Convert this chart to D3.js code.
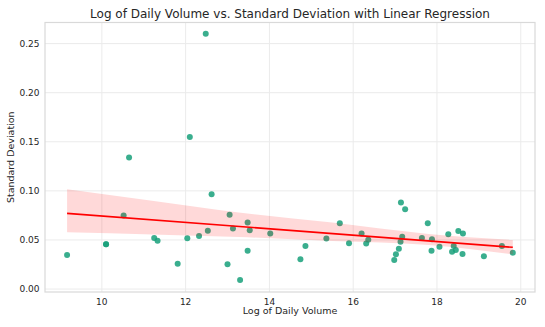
<!DOCTYPE html>
<html>
<head>
<meta charset="utf-8">
<script src="https://cdn.jsdelivr.net/npm/d3@7"></script>
<style>
  body { margin: 0; background: #fff; }
  text { font-family: "DejaVu Sans", sans-serif; fill: #262626; }
</style>
</head>
<body>
<svg id="chart" width="545" height="327"></svg>
<script>
// log of daily volume (x) and standard deviation (y)
const logVolume = [9.17, 10.10, 10.10, 10.52, 10.65, 11.25, 11.33, 11.81, 12.04, 12.10,
  12.32, 12.48, 12.53, 12.62, 13.00, 13.05, 13.13, 13.30, 13.48, 13.48,
  13.53, 14.02, 14.74, 14.86, 15.36, 15.68, 15.90, 16.20, 16.31, 16.36,
  16.98, 17.02, 17.09, 17.13, 17.17, 17.14, 17.24, 17.64, 17.78, 17.88,
  17.87, 18.06, 18.27, 18.36, 18.40, 18.45, 18.51, 18.62, 18.61, 19.12,
  19.55, 19.81];
const stdDev = [0.0347, 0.0456, 0.0456, 0.0748, 0.134, 0.052, 0.0493, 0.0258, 0.0517, 0.155,
  0.054, 0.260, 0.0595, 0.0966, 0.0252, 0.0758, 0.0616, 0.0092, 0.0677, 0.039,
  0.0599, 0.0565, 0.0303, 0.0439, 0.0514, 0.067, 0.0466, 0.0565, 0.0463, 0.0503,
  0.0296, 0.0354, 0.0411, 0.0483, 0.0534, 0.0881, 0.0813, 0.052, 0.067, 0.0507,
  0.039, 0.0432, 0.0558, 0.0381, 0.0439, 0.0398, 0.0592, 0.0565, 0.0357, 0.0334,
  0.0439, 0.037];
// confidence band edges (bootstrapped in the original)
const bandX = [9.17, 11.2, 13.27, 15.5, 17.8, 19.81];
const bandHi = [0.1017, 0.0900, 0.0780, 0.0677, 0.0561, 0.0500];
const bandLo = [0.0578, 0.0556, 0.0530, 0.0490, 0.0449, 0.0354];
const xTicks = [10, 12, 14, 16, 18, 20];
const yTicks = [0.00, 0.05, 0.10, 0.15, 0.20, 0.25];

const margin = { left: 45, right: 10, top: 22.5, bottom: 35 };
const width = 545, height = 327;

const svg = d3.select('#chart');
svg.append('rect').attr('width', width).attr('height', height).attr('fill', '#fff');

const xScale = d3.scaleLinear()
                 .domain([8.643, 20.34])
                 .range([margin.left, width - margin.right]);
const yScale = d3.scaleLinear()
                 .domain([-0.003, 0.2715])
                 .range([height - margin.bottom, margin.top]);

// grid
svg.append('g')
   .selectAll('line')
   .data(xTicks)
   .join('line')
     .attr('x1', d => xScale(d)).attr('x2', d => xScale(d))
     .attr('y1', margin.top).attr('y2', height - margin.bottom)
     .attr('stroke', '#ebebeb').attr('stroke-width', 1);
svg.append('g')
   .selectAll('line')
   .data(yTicks)
   .join('line')
     .attr('x1', margin.left).attr('x2', width - margin.right)
     .attr('y1', d => yScale(d)).attr('y2', d => yScale(d))
     .attr('stroke', '#ebebeb').attr('stroke-width', 1);

// points
const data = logVolume.map((x, i) => ({ x: x, y: stdDev[i] }));
svg.append('g')
   .selectAll('circle')
   .data(data)
   .join('circle')
     .attr('cx', d => xScale(d.x))
     .attr('cy', d => yScale(d.y))
     .attr('r', 3)
     .attr('fill', '#17a07a')
     .attr('fill-opacity', 0.85);

// least squares fit
const xMean = d3.mean(data, d => d.x);
const yMean = d3.mean(data, d => d.y);
const sxx = d3.sum(data, d => (d.x - xMean) ** 2);
const sxy = d3.sum(data, d => (d.x - xMean) * (d.y - yMean));
const slope = sxy / sxx;
const intercept = yMean - slope * xMean;
const [xMin, xMax] = d3.extent(logVolume);

const band = bandX.map((x, i) => ({ x: x, lo: bandLo[i], hi: bandHi[i] }));
svg.append('path')
   .datum(band)
   .attr('fill', 'red')
   .attr('fill-opacity', 0.15)
   .attr('d', d3.area().curve(d3.curveMonotoneX)
     .x(d => xScale(d.x)).y0(d => yScale(d.lo)).y1(d => yScale(d.hi)));
svg.append('path')
   .datum([xMin, xMax])
   .attr('fill', 'none')
   .attr('stroke', 'red')
   .attr('stroke-width', 1.6)
   .attr('d', d3.line().x(d => xScale(d)).y(d => yScale(intercept + slope * d)));

// frame
svg.append('rect')
   .attr('x', margin.left).attr('y', margin.top)
   .attr('width', width - margin.left - margin.right)
   .attr('height', height - margin.top - margin.bottom)
   .attr('fill', 'none').attr('stroke', '#d9d9d9').attr('stroke-width', 1.2);

// tick labels
svg.append('g')
   .selectAll('text')
   .data(xTicks)
   .join('text')
     .attr('x', d => xScale(d))
     .attr('y', height - margin.bottom + 12.5)
     .attr('text-anchor', 'middle')
     .attr('font-size', '9px')
     .text(d => d);
svg.append('g')
   .selectAll('text')
   .data(yTicks)
   .join('text')
     .attr('x', margin.left - 5.5)
     .attr('y', d => yScale(d) + 3.3)
     .attr('text-anchor', 'end')
     .attr('font-size', '9px')
     .text(d => d3.format('.2f')(d));

// labels
svg.append('text')
   .attr('x', (margin.left + width - margin.right) / 2)
   .attr('y', 18)
   .attr('text-anchor', 'middle')
   .attr('font-size', '12px')
   .text('Log of Daily Volume vs. Standard Deviation with Linear Regression');
svg.append('text')
   .attr('x', (margin.left + width - margin.right) / 2)
   .attr('y', 314)
   .attr('text-anchor', 'middle')
   .attr('font-size', '9.5px')
   .text('Log of Daily Volume');
svg.append('text')
   .attr('transform', `translate(13.5, ${(margin.top + height - margin.bottom) / 2}) rotate(-90)`)
   .attr('text-anchor', 'middle')
   .attr('font-size', '9.5px')
   .text('Standard Deviation');
</script>
</body>
</html>
